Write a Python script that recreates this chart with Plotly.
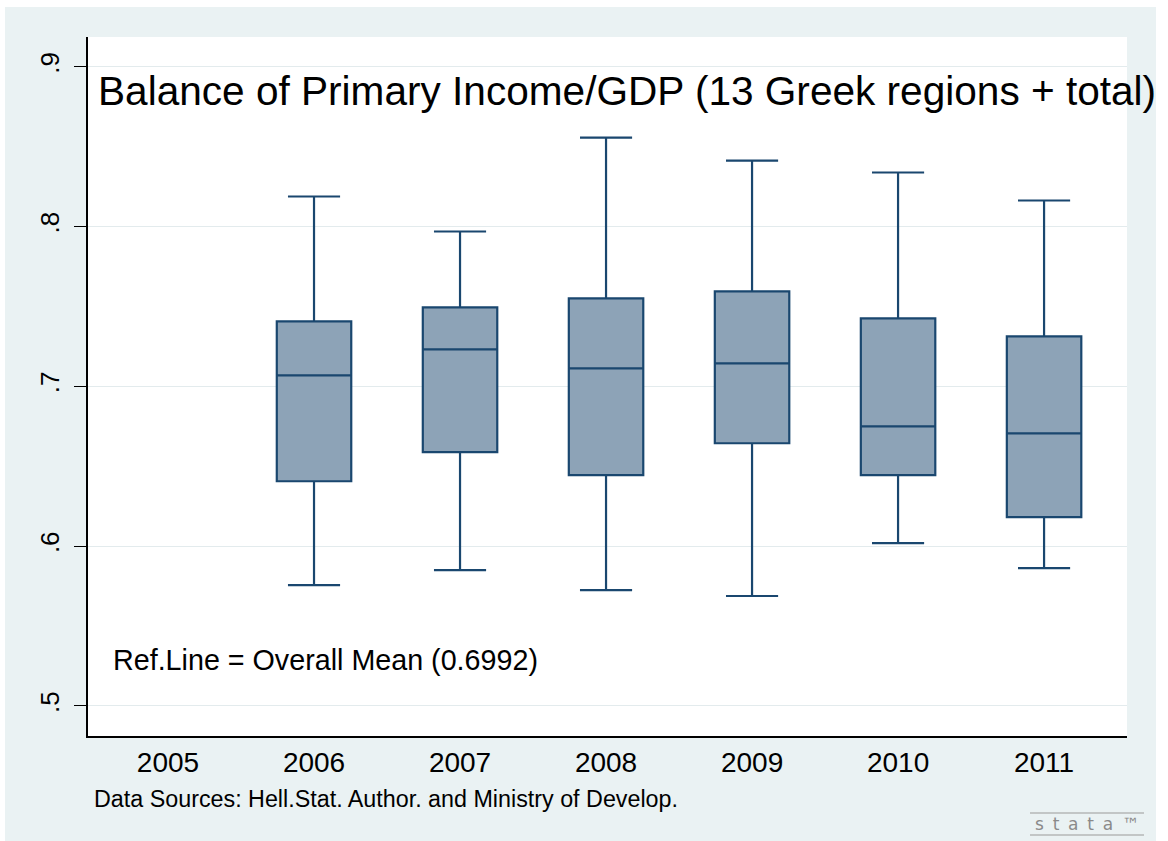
import plotly.graph_objects as go

# ---- data ----
years_all = ["2005", "2006", "2007", "2008", "2009", "2010", "2011"]
years = ["2006", "2007", "2008", "2009", "2010", "2011"]
upper_whisker = [0.8188, 0.7969, 0.8556, 0.8413, 0.8338, 0.8163]
q3_values = [0.7406, 0.7494, 0.7550, 0.7594, 0.7425, 0.7313]
median_values = [0.7069, 0.7231, 0.7113, 0.7144, 0.6750, 0.6706]
q1_values = [0.6406, 0.6588, 0.6444, 0.6644, 0.6444, 0.6181]
lower_whisker = [0.5756, 0.5850, 0.5725, 0.5688, 0.6019, 0.5863]
overall_mean = 0.6992
y_tickvals = [0.5, 0.6, 0.7, 0.8, 0.9]
y_ticktext = [".5", ".6", ".7", ".8", ".9"]

# ---- styling ----
BG = "#EAF2F3"
NAVY = "#1A476F"
FILL = "#8DA3B7"
RED = "#C8102E"
GRID = "#E3EBED"
FONT = "Liberation Sans, Arial, sans-serif"

W, H = 1168, 841
L, R, T, B = 88, 41, 37, 105
pw, ph = W - L - R, H - T - B


def px_x(x):
    return (x - L) / pw


def px_y(y):
    return (H - B - y) / ph


fig = go.Figure()
fig.add_trace(go.Box(
    x=years,
    q1=q1_values,
    median=median_values,
    q3=q3_values,
    lowerfence=lower_whisker,
    upperfence=upper_whisker,
    fillcolor=FILL,
    line=dict(color=NAVY, width=2.2),
    whiskerwidth=0.7,
    boxpoints=False,
    showlegend=False,
))

# reference line at overall mean
fig.add_shape(type="line", xref="paper", x0=0, x1=1, yref="y",
              y0=overall_mean, y1=overall_mean,
              line=dict(color=RED, width=2), layer="below")

# outer background + white plot region
fig.add_shape(type="rect", xref="paper", yref="paper",
              x0=px_x(5), x1=px_x(1156), y0=px_y(841), y1=px_y(7),
              fillcolor=BG, line=dict(width=0), layer="below")
fig.add_shape(type="rect", xref="paper", yref="paper",
              x0=0, x1=1, y0=0, y1=1,
              fillcolor="white", line=dict(width=0), layer="below")

# stata logo lines
fig.add_shape(type="line", xref="paper", yref="paper",
              x0=px_x(1030), x1=px_x(1144), y0=px_y(813), y1=px_y(813),
              line=dict(color="#9A9A9A", width=1.2))
fig.add_shape(type="line", xref="paper", yref="paper",
              x0=px_x(1030), x1=px_x(1144), y0=px_y(835), y1=px_y(835),
              line=dict(color="#9A9A9A", width=1.2))

annotations = [
    dict(text="Balance of Primary Income/GDP (13 Greek regions + total)",
         x=px_x(96), y=px_y(91), xanchor="left", yanchor="middle",
         font=dict(size=40.6, color="black", family=FONT)),
    dict(text="Ref.Line = Overall Mean (0.6992)",
         x=px_x(111), y=px_y(660), xanchor="left", yanchor="middle",
         font=dict(size=28.7, color="black", family=FONT)),
    dict(text="Data Sources: Hell.Stat. Author. and Ministry of Develop.",
         x=px_x(92), y=px_y(799), xanchor="left", yanchor="middle",
         font=dict(size=23.3, color="black", family=FONT)),
    dict(text="s \u2009t \u2009a \u2009t \u2009a \u2009\u2122",
         x=px_x(1087), y=px_y(824), xanchor="center", yanchor="middle",
         font=dict(size=17, color="#8A8A8A", family="DejaVu Sans")),
]
for a in annotations:
    a.update(xref="paper", yref="paper", showarrow=False)

fig.update_layout(
    width=W, height=H,
    margin=dict(l=L, r=R, t=T, b=B, pad=0),
    paper_bgcolor="white",
    plot_bgcolor="white",
    font=dict(family=FONT, color="black"),
    boxmode="overlay",
    boxgap=0.49,
    boxgroupgap=0,
    annotations=annotations,
    showlegend=False,
)
fig.update_xaxes(
    type="category", categoryorder="array", categoryarray=years_all,
    range=[-0.548, 6.568],
    showline=True, linecolor="black", linewidth=1.5,
    showgrid=False, zeroline=False, ticks="",
    tickfont=dict(size=28, color="black", family=FONT),
    ticklabelstandoff=1,
)
fig.update_yaxes(
    range=[0.4812, 0.9186],
    tickvals=y_tickvals, ticktext=y_ticktext,
    tickangle=-90,
    showline=True, linecolor="black", linewidth=1.5,
    showgrid=True, gridcolor=GRID, gridwidth=1.2,
    zeroline=False, ticks="outside", ticklen=12, tickwidth=1.2, tickcolor="black",
    tickfont=dict(size=26, color="black", family=FONT),
    ticklabelstandoff=5,
)

fig.write_html("out.html", config={"displayModeBar": False},
               post_script="document.body.style.margin='0';")
